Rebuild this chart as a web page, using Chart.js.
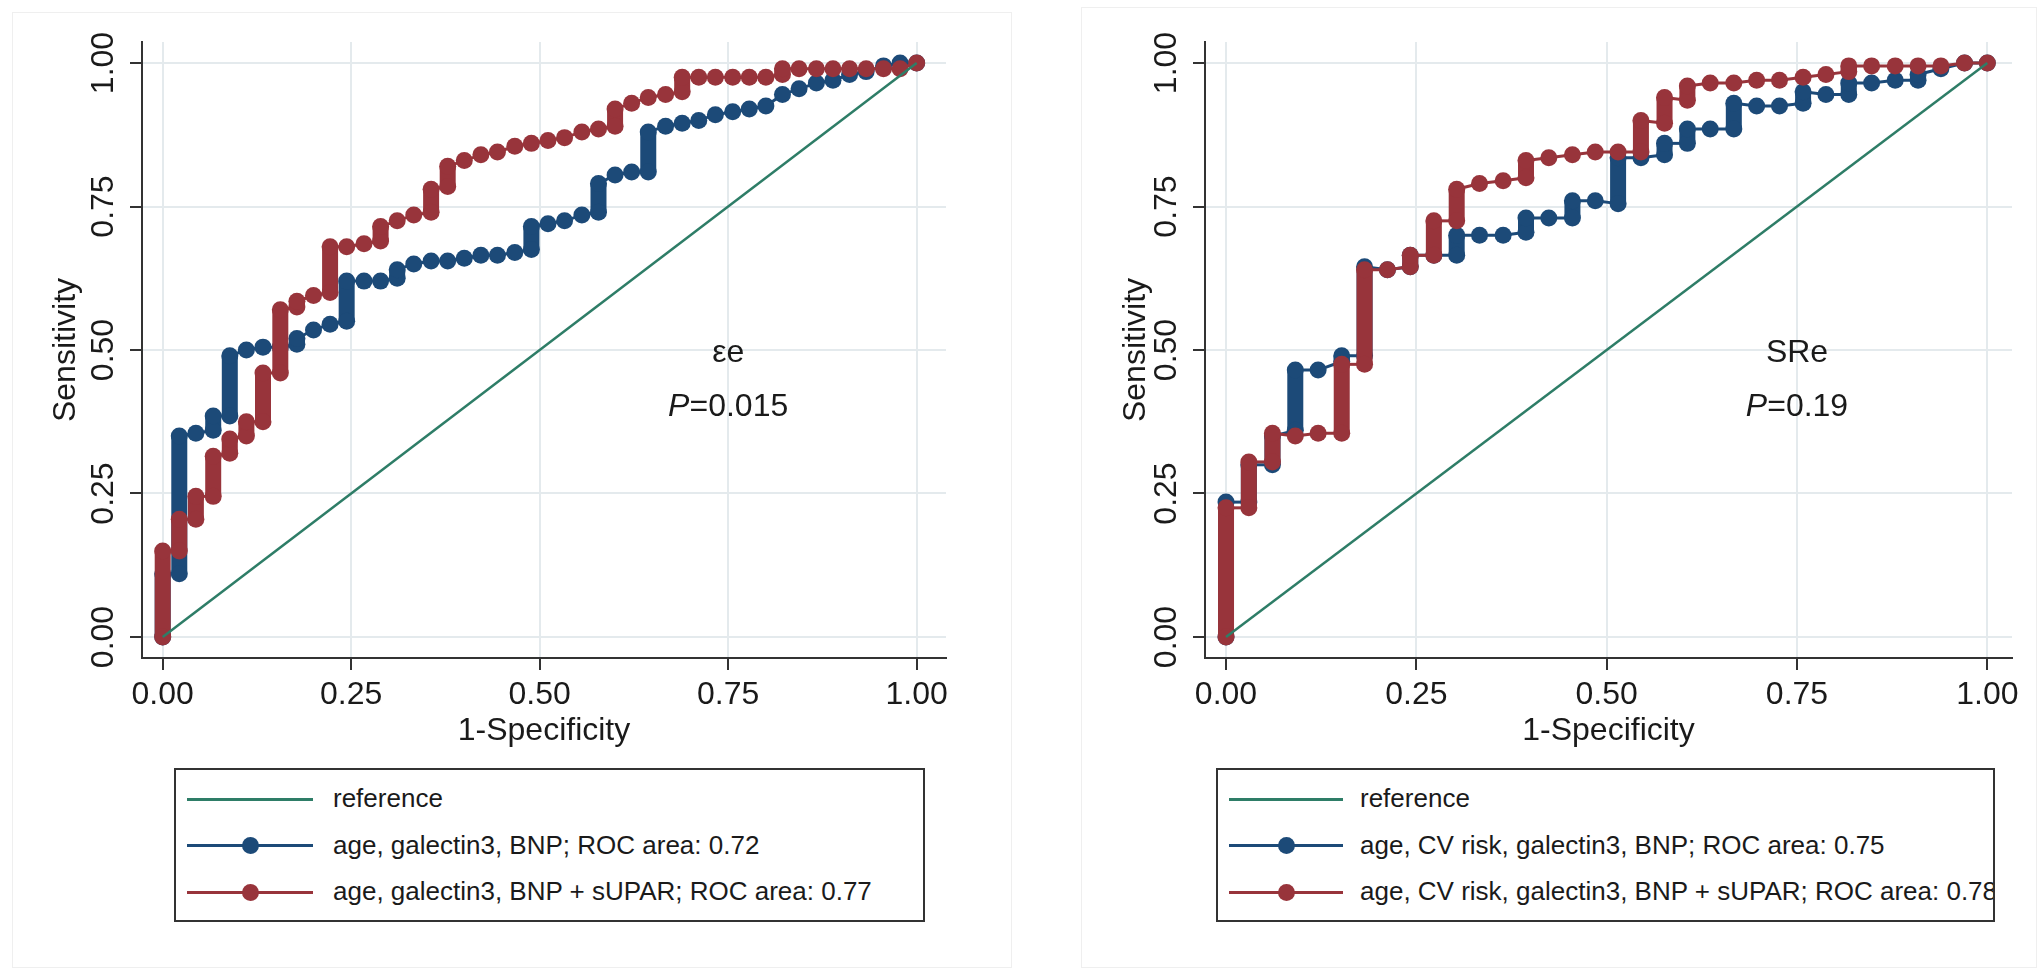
<!DOCTYPE html>
<html>
<head>
<meta charset="utf-8">
<script src="https://cdn.jsdelivr.net/npm/chart.js@4.4.1/dist/chart.umd.min.js"></script>
<style>
  body { margin: 0; background: #fff; width: 2040px; height: 975px; overflow: hidden; position: relative;
         font-family: 'Liberation Sans', Arial, sans-serif; color: #1a1a1a; }
  .frame { position: absolute; border: 1px solid #efefef; box-sizing: border-box; }
  canvas { position: absolute; top: 0; }
  .legend { position: absolute; top: 768px; height: 154px; border: 2px solid #333; box-sizing: border-box;
            overflow: hidden; background: #fff; }
  .legend .ln { position: absolute; height: 3px; }
  .legend .dot { position: absolute; width: 17px; height: 17px; border-radius: 50%; }
  .legend .txt { position: absolute; font-size: 26px; line-height: 1; white-space: nowrap; transform: translateY(-52%); }
</style>
</head>
<body>
<div class="frame" style="left:12px;top:12px;width:1000px;height:956px"></div>
<div class="frame" style="left:1081px;top:7px;width:956px;height:961px"></div>
<canvas id="left" width="1020" height="758" style="left:0"></canvas>
<canvas id="right" width="1020" height="758" style="left:1020px"></canvas>
<div class="legend" id="leg-left" style="left:174px;width:751px"></div>
<div class="legend" id="leg-right" style="left:1216px;width:779px"></div>

<script>
const FONT = "'Liberation Sans', Arial, sans-serif"
const TXT = '#1a1a1a'
const AXIS = '#333333'
const GRID = '#e4eaed'
const GREEN = '#2e7d67'
const NAVY = '#1c4a78'
const MAROON = '#98343b'

// ── Data ─────────────────────────────────────────────────────────────────────

const xTicks = [0, 0.25, 0.5, 0.75, 1]
const yTicks = [0, 0.25, 0.5, 0.75, 1]

const refX = [0, 1]
const refY = [0, 1]

// left panel (εe)
const leftBlueX = [0, 0, 0.022, 0.022, 0.044, 0.067, 0.067, 0.089, 0.089, 0.111, 0.133, 0.156, 0.178, 0.178, 0.2, 0.222,
    0.244, 0.244, 0.267, 0.289, 0.311, 0.311, 0.333, 0.356, 0.378, 0.4, 0.422, 0.444, 0.467, 0.489, 0.489, 0.511, 0.533,
    0.556, 0.578, 0.578, 0.6, 0.622, 0.644, 0.644, 0.667, 0.689, 0.711, 0.733, 0.756, 0.778, 0.8, 0.822, 0.844, 0.867,
    0.889, 0.911, 0.933, 0.956, 0.978, 1]
const leftBlueY = [0, 0.11, 0.11, 0.35, 0.355, 0.36, 0.385, 0.385, 0.49, 0.5, 0.505, 0.505, 0.51, 0.52, 0.535, 0.545,
    0.55, 0.62, 0.62, 0.62, 0.625, 0.64, 0.65, 0.655, 0.655, 0.66, 0.665, 0.665, 0.67, 0.675, 0.715, 0.72, 0.725,
    0.735, 0.74, 0.79, 0.805, 0.81, 0.81, 0.88, 0.89, 0.895, 0.9, 0.91, 0.915, 0.92, 0.925, 0.945, 0.955, 0.965,
    0.97, 0.98, 0.985, 0.995, 1, 1]

const leftRedX = [0, 0, 0.022, 0.022, 0.044, 0.044, 0.067, 0.067, 0.089, 0.089, 0.111, 0.111, 0.133, 0.133, 0.156, 0.156,
    0.178, 0.178, 0.2, 0.222, 0.222, 0.244, 0.267, 0.289, 0.289, 0.311, 0.333, 0.356, 0.356, 0.378, 0.378, 0.4, 0.422,
    0.444, 0.467, 0.489, 0.511, 0.533, 0.556, 0.578, 0.6, 0.6, 0.622, 0.644, 0.667, 0.689, 0.689, 0.711, 0.733, 0.756,
    0.778, 0.8, 0.822, 0.822, 0.844, 0.867, 0.889, 0.911, 0.933, 0.956, 0.978, 1]
const leftRedY = [0, 0.15, 0.15, 0.205, 0.205, 0.245, 0.245, 0.315, 0.32, 0.345, 0.35, 0.375, 0.375, 0.46, 0.46, 0.57,
    0.575, 0.585, 0.595, 0.6, 0.68, 0.68, 0.685, 0.69, 0.715, 0.725, 0.735, 0.74, 0.78, 0.785, 0.82, 0.83, 0.84,
    0.845, 0.855, 0.86, 0.865, 0.87, 0.88, 0.885, 0.89, 0.92, 0.93, 0.94, 0.945, 0.95, 0.975, 0.975, 0.975, 0.975,
    0.975, 0.975, 0.98, 0.99, 0.99, 0.99, 0.99, 0.99, 0.99, 0.99, 0.99, 1]

// right panel (SRe)
const rightBlueX = [0, 0, 0.03, 0.03, 0.061, 0.061, 0.091, 0.091, 0.121, 0.152, 0.152, 0.182, 0.182, 0.212, 0.242, 0.242,
    0.273, 0.303, 0.303, 0.333, 0.364, 0.394, 0.394, 0.424, 0.455, 0.455, 0.485, 0.515, 0.515, 0.545, 0.576, 0.576,
    0.606, 0.606, 0.636, 0.667, 0.667, 0.697, 0.727, 0.758, 0.758, 0.788, 0.818, 0.818, 0.848, 0.879, 0.909, 0.909,
    0.939, 0.97, 1]
const rightBlueY = [0, 0.235, 0.235, 0.3, 0.3, 0.35, 0.36, 0.465, 0.465, 0.48, 0.49, 0.49, 0.645, 0.64, 0.645, 0.665,
    0.665, 0.665, 0.7, 0.7, 0.7, 0.705, 0.73, 0.73, 0.73, 0.76, 0.76, 0.755, 0.835, 0.835, 0.84, 0.86,
    0.86, 0.885, 0.885, 0.885, 0.93, 0.925, 0.925, 0.93, 0.95, 0.945, 0.945, 0.965, 0.965, 0.97, 0.97, 0.98,
    0.99, 1, 1]

const rightRedX = [0, 0, 0.03, 0.03, 0.061, 0.061, 0.091, 0.121, 0.152, 0.152, 0.182, 0.182, 0.212, 0.242, 0.242, 0.273,
    0.273, 0.303, 0.303, 0.333, 0.364, 0.394, 0.394, 0.424, 0.455, 0.485, 0.515, 0.545, 0.545, 0.576, 0.576, 0.606,
    0.606, 0.636, 0.667, 0.697, 0.727, 0.758, 0.788, 0.818, 0.818, 0.848, 0.879, 0.909, 0.939, 0.97, 1]
const rightRedY = [0, 0.225, 0.225, 0.305, 0.305, 0.355, 0.35, 0.355, 0.355, 0.475, 0.475, 0.64, 0.64, 0.645, 0.665, 0.665,
    0.725, 0.725, 0.78, 0.79, 0.795, 0.8, 0.83, 0.835, 0.84, 0.845, 0.845, 0.845, 0.9, 0.895, 0.94, 0.935,
    0.96, 0.965, 0.965, 0.97, 0.97, 0.975, 0.98, 0.985, 0.995, 0.995, 0.995, 0.995, 0.995, 1, 1]

const leftLabels = ['reference', 'age, galectin3, BNP; ROC area: 0.72', 'age, galectin3, BNP + sUPAR; ROC area: 0.77']
const rightLabels = ['reference', 'age, CV risk, galectin3, BNP; ROC area: 0.75', 'age, CV risk, galectin3, BNP + sUPAR; ROC area: 0.78']


// ── Helpers ──────────────────────────────────────────────────────────────────

const pts = (xs, ys) => xs.map((x, i) => ({ x, y: ys[i] }))

const rocSet = (xs, ys, color, order) => ({
    data: pts(xs, ys),
    borderColor: color,
    backgroundColor: color,
    borderWidth: 3,
    pointRadius: 8.5,
    pointBorderWidth: 0,
    pointBackgroundColor: color,
    tension: 0,
    order,
    // stacked markers make vertical runs look like solid bars
    segment: { borderWidth: c => c.p0.parsed.x === c.p1.parsed.x ? 16 : 3 },
})

const notes = {
    id: 'notes',
    afterDraw(chart, args, o) {
        const { ctx, scales: { x, y } } = chart
        ctx.save()
        ctx.fillStyle = TXT
        ctx.textBaseline = 'middle'
        ctx.font = `32px ${FONT}`
        ctx.textAlign = 'center'
        ctx.fillText(o.label, x.getPixelForValue(o.labelAt[0]), y.getPixelForValue(o.labelAt[1]))

        // P in italics, rest upright
        ctx.textAlign = 'left'
        const rest = '=' + o.p
        ctx.font = `italic 32px ${FONT}`
        const wP = ctx.measureText('P').width
        ctx.font = `32px ${FONT}`
        const wR = ctx.measureText(rest).width
        const cx = x.getPixelForValue(o.pAt[0]), cy = y.getPixelForValue(o.pAt[1])
        const x0 = cx - (wP + wR) / 2
        ctx.font = `italic 32px ${FONT}`
        ctx.fillText('P', x0, cy)
        ctx.font = `32px ${FONT}`
        ctx.fillText(rest, x0 + wP, cy)
        ctx.restore()
    }
}

function makePanel(id, cfg) {
    const font = { size: 32, family: FONT }
    return new Chart(document.getElementById(id), {
        type: 'line',
        data: {
            datasets: [
                { data: pts(refX, refY), borderColor: GREEN, borderWidth: 2.5, pointRadius: 0, order: 0 },
                rocSet(cfg.redX, cfg.redY, MAROON, 1),
                rocSet(cfg.blueX, cfg.blueY, NAVY, 2),
            ]
        },
        plugins: [notes],
        options: {
            responsive: false,
            animation: false,
            events: [],
            layout: { padding: { left: 0, top: 42, right: cfg.padRight, bottom: 0 } },
            plugins: {
                legend: { display: false },
                tooltip: { enabled: false },
                notes: { label: cfg.label, labelAt: [0.75, 0.495], p: cfg.p, pAt: [0.75, 0.4] },
            },
            scales: {
                x: {
                    type: 'linear', min: cfg.xMin, max: cfg.xMax,
                    afterBuildTicks: s => { s.ticks = xTicks.map(v => ({ value: v })) },
                    afterFit: s => { s.height = 100 },
                    grid: { color: GRID, lineWidth: 2, tickColor: AXIS, tickWidth: 2, tickLength: 12 },
                    border: { color: AXIS, width: 2 },
                    ticks: { color: TXT, font, padding: 6, maxRotation: 0, autoSkip: false, callback: v => v.toFixed(2) },
                    title: { display: true, text: '1-Specificity', color: TXT, font, padding: { top: 0, bottom: 8 } },
                },
                y: {
                    type: 'linear', min: -0.0366, max: 1.0366,
                    afterBuildTicks: s => { s.ticks = yTicks.map(v => ({ value: v })) },
                    afterFit: s => { s.width = cfg.yWidth },
                    grid: { color: GRID, lineWidth: 2, tickColor: AXIS, tickWidth: 2, tickLength: 12 },
                    border: { color: AXIS, width: 2 },
                    ticks: { color: TXT, font, padding: -5, minRotation: 90, maxRotation: 90, crossAlign: 'center',
                             autoSkip: false, callback: v => v.toFixed(2) },
                    title: { display: true, text: 'Sensitivity', color: TXT, font, padding: { top: cfg.yTitlePad, bottom: 0 } },
                },
            }
        }
    })
}

function makeLegend(id, labels, lineLen, textLeft) {
    const colors = [GREEN, NAVY, MAROON]
    const rows = [29, 75.7, 122]
    const box = document.getElementById(id)
    box.innerHTML = labels.map((t, i) => {
        const c = colors[i], cy = rows[i]
        const dot = i ? `<div class="dot" style="background:${c};left:${11 + lineLen / 2 - 8.5}px;top:${cy - 8.5}px"></div>` : ''
        return `<div class="ln" style="background:${c};left:11px;width:${lineLen}px;top:${cy - 1.5}px"></div>${dot}
                <div class="txt" style="left:${textLeft}px;top:${cy}px">${t}</div>`
    }).join('')
}


// ── Init ─────────────────────────────────────────────────────────────────────

makePanel('left', {
    blueX: leftBlueX, blueY: leftBlueY, redX: leftRedX, redY: leftRedY,
    label: 'εe', p: '0.015',
    xMin: -0.02745, xMax: 1.0389, padRight: 74, yWidth: 142, yTitlePad: 47,
})
makePanel('right', {
    blueX: rightBlueX, blueY: rightBlueY, redX: rightRedX, redY: rightRedY,
    label: 'SRe', p: '0.19',
    xMin: -0.0276, xMax: 1.0324, padRight: 28, yWidth: 185, yTitlePad: 97,
})

makeLegend('leg-left', leftLabels, 126, 157)
makeLegend('leg-right', rightLabels, 114, 142)
</script>
</body>
</html>
